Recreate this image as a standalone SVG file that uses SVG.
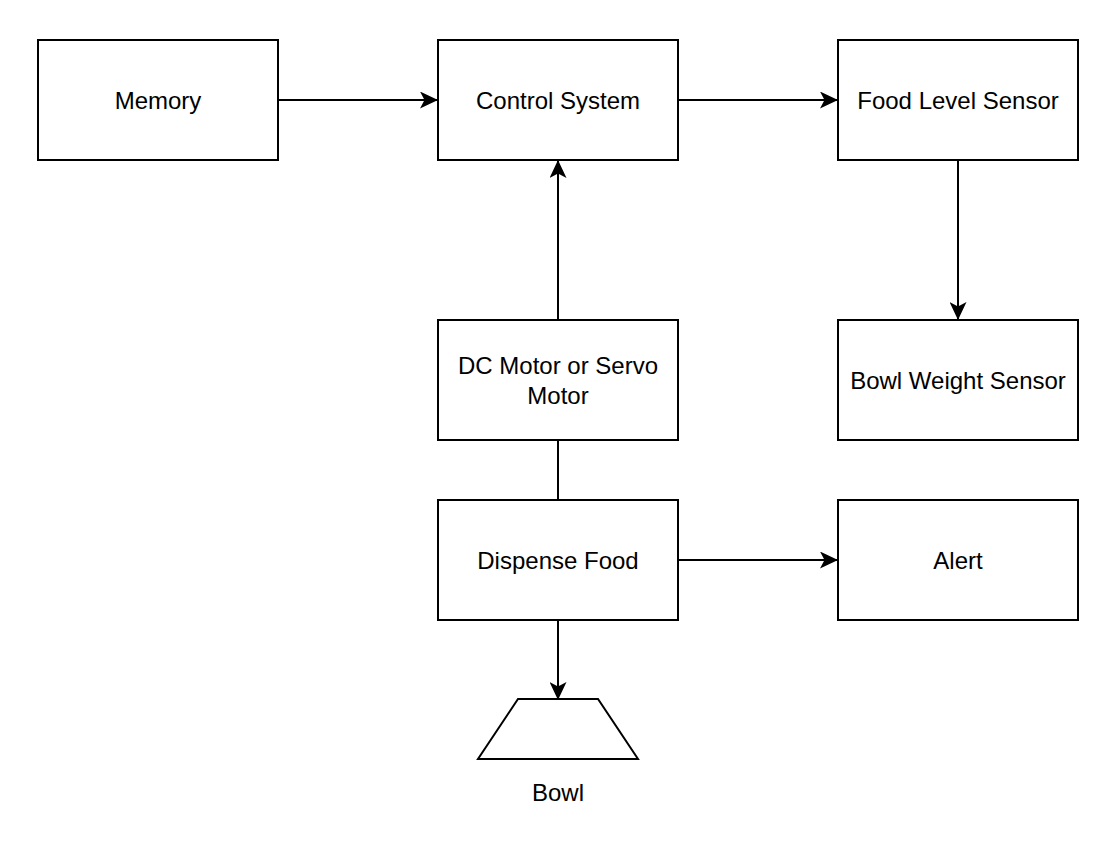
<svg xmlns="http://www.w3.org/2000/svg" width="1120" height="860" viewBox="0 0 1120 860">
<style>
.box{fill:#fff;stroke:#000;stroke-width:2}
.lbl{font-family:"Liberation Sans",Arial,sans-serif;font-size:24px;fill:#000;text-anchor:middle;dominant-baseline:central}
.edge{fill:none;stroke:#000;stroke-width:2}
</style>
<defs>
<marker id="arr" viewBox="0 0 18 17" refX="17" refY="8.5" markerWidth="18" markerHeight="17" markerUnits="userSpaceOnUse" orient="auto">
<path d="M0,0 L18,8.5 L0,17 L4.5,8.5 Z" fill="#000"/>
</marker>
</defs>
<rect width="1120" height="860" fill="#fff"/>
<g id="connectors">
<line class="edge" x1="278" y1="100" x2="437" y2="100" marker-end="url(#arr)"/>
<line class="edge" x1="678" y1="100" x2="837" y2="100" marker-end="url(#arr)"/>
<line class="edge" x1="958" y1="160" x2="958" y2="319" marker-end="url(#arr)"/>
<line class="edge" x1="558" y1="320" x2="558" y2="161" marker-end="url(#arr)"/>
<line class="edge" x1="558" y1="440" x2="558" y2="500"/>
<line class="edge" x1="678" y1="560" x2="837" y2="560" marker-end="url(#arr)"/>
<line class="edge" x1="558" y1="620" x2="558" y2="699" marker-end="url(#arr)"/>
</g>
<g id="memory"><rect class="box" x="38" y="40" width="240" height="120"/><text class="lbl" x="158" y="100">Memory</text></g>
<g id="control"><rect class="box" x="438" y="40" width="240" height="120"/><text class="lbl" x="558" y="100">Control System</text></g>
<g id="foodlevel"><rect class="box" x="838" y="40" width="240" height="120"/><text class="lbl" x="958" y="100">Food Level Sensor</text></g>
<g id="motor"><rect class="box" x="438" y="320" width="240" height="120"/><text class="lbl" x="558" y="365">DC Motor or Servo</text><text class="lbl" x="558" y="395">Motor</text></g>
<g id="bowlweight"><rect class="box" x="838" y="320" width="240" height="120"/><text class="lbl" x="958" y="380">Bowl Weight Sensor</text></g>
<g id="dispense"><rect class="box" x="438" y="500" width="240" height="120"/><text class="lbl" x="558" y="560">Dispense Food</text></g>
<g id="alert"><rect class="box" x="838" y="500" width="240" height="120"/><text class="lbl" x="958" y="560">Alert</text></g>
<g id="bowl"><path class="box" d="M518,699 L598,699 L638,759 L478,759 Z"/><text class="lbl" x="558" y="792">Bowl</text></g>
</svg>
